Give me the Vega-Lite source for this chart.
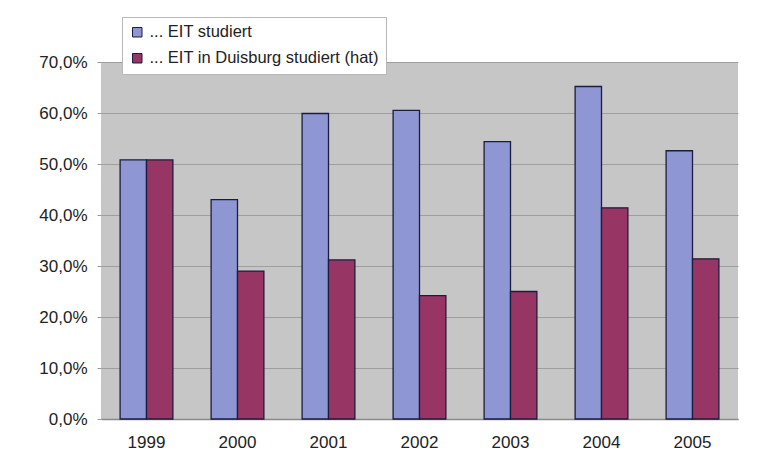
{
  "$schema": "https://vega.github.io/schema/vega-lite/v6.json",
  "autosize": {"type": "none"},
  "padding": {"left": 101, "top": 62, "right": 27, "bottom": 38},
  "width": 637,
  "height": 357,
  "background": "white",
  "data": {
    "values": [
      {"jahr": "1999", "serie": "... EIT studiert", "wert": 50.8},
      {"jahr": "1999", "serie": "... EIT in Duisburg studiert (hat)", "wert": 50.8},
      {"jahr": "2000", "serie": "... EIT studiert", "wert": 43.0},
      {"jahr": "2000", "serie": "... EIT in Duisburg studiert (hat)", "wert": 29.0},
      {"jahr": "2001", "serie": "... EIT studiert", "wert": 59.9},
      {"jahr": "2001", "serie": "... EIT in Duisburg studiert (hat)", "wert": 31.2},
      {"jahr": "2002", "serie": "... EIT studiert", "wert": 60.5},
      {"jahr": "2002", "serie": "... EIT in Duisburg studiert (hat)", "wert": 24.2},
      {"jahr": "2003", "serie": "... EIT studiert", "wert": 54.4},
      {"jahr": "2003", "serie": "... EIT in Duisburg studiert (hat)", "wert": 25.0},
      {"jahr": "2004", "serie": "... EIT studiert", "wert": 65.2},
      {"jahr": "2004", "serie": "... EIT in Duisburg studiert (hat)", "wert": 41.4},
      {"jahr": "2005", "serie": "... EIT studiert", "wert": 52.6},
      {"jahr": "2005", "serie": "... EIT in Duisburg studiert (hat)", "wert": 31.4}
    ]
  },
  "mark": {"type": "bar", "stroke": "#1c1c3c", "strokeWidth": 1.3},
  "encoding": {
    "x": {
      "field": "jahr", "type": "nominal",
      "scale": {"paddingInner": 0.42, "paddingOuter": 0.21},
      "axis": {
        "title": null, "labelAngle": 0, "ticks": false, "labelPadding": 15,
        "labelFont": "Liberation Sans", "labelFontSize": 17, "labelColor": "#222",
        "domainColor": "#8a8a8a", "domainWidth": 1.5
      }
    },
    "xOffset": {"field": "serie", "sort": ["... EIT studiert", "... EIT in Duisburg studiert (hat)"]},
    "y": {
      "field": "wert", "type": "quantitative",
      "scale": {"domain": [0, 70], "nice": false},
      "axis": {
        "title": null, "values": [0, 10, 20, 30, 40, 50, 60, 70],
        "labelExpr": "replace(format(datum.value, '.1f'), '.', ',') + '%'",
        "labelFont": "Liberation Sans", "labelFontSize": 17, "labelColor": "#222",
        "labelPadding": 10, "tickSize": 4, "tickColor": "#9a9a9a",
        "domain": false, "grid": true, "gridColor": "#9e9e9e", "gridWidth": 1.2
      }
    },
    "color": {
      "field": "serie", "type": "nominal",
      "sort": ["... EIT studiert", "... EIT in Duisburg studiert (hat)"],
      "scale": {"range": ["#8e97d3", "#973565"]},
      "legend": {
        "title": null, "orient": "none", "legendX": 21, "legendY": -45,
        "padding": 7, "fillColor": "white", "strokeColor": "#b8b8b8",
        "symbolType": "square", "symbolSize": 90, "symbolStrokeColor": "#1c1c3c", "symbolStrokeWidth": 1,
        "labelFont": "Liberation Sans", "labelFontSize": 16.5, "labelColor": "#222", "labelOffset": 4,
        "labelLimit": 400, "rowPadding": 9
      }
    }
  },
  "config": {
    "view": {"fill": "#c6c6c6", "stroke": null}
  }
}
